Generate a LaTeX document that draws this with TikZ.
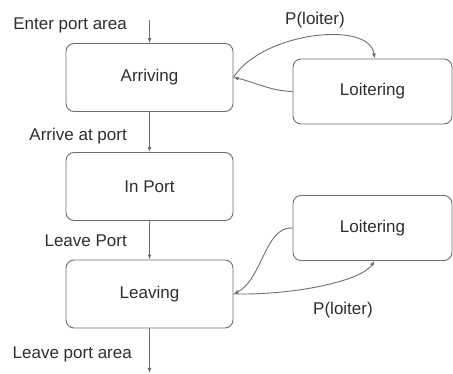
\documentclass[tikz,border=0pt]{standalone}
\usepackage{fontspec}
\setmainfont{Liberation Sans}
\usetikzlibrary{arrows.meta}
\definecolor{edgegray}{HTML}{6E6E6E}
\definecolor{textgray}{HTML}{2E2E2E}
\begin{document}
\begin{tikzpicture}[x=1pt,y=-1pt,
  font=\fontsize{17}{20}\selectfont,
  every node/.style={text=textgray},
  state/.style={draw=edgegray, line width=0.9pt, rounded corners=8pt,
    minimum width=167pt, minimum height=68pt, inner sep=0pt},
  loiterbox/.style={state, minimum width=159pt, minimum height=65pt},
  flow/.style={draw=edgegray, line width=0.9pt,
    -{Latex[length=5pt,width=4pt]}},
  lbl/.style={inner sep=0pt, anchor=base east}]
\useasboundingbox (0,0) rectangle (453,374);

% main chain of states
\node[state] (arr) at (149.5,77.5) {Arriving};
\node[state] (inp) at (149.5,186.5) {In Port};
\node[state] (lev) at (149.5,294) {Leaving};

% loitering states beside the chain
\node[loiterbox] (lo1) at (372.5,91.5) {Loitering};
\node[loiterbox] (lo2) at (372.5,228) {Loitering};

% entry and exit points
\coordinate (entry) at (149.5,20);
\coordinate (exit) at (149.5,373);

% transition labels
\node[lbl] (tenter) at (127,30) {Enter port area};
\node[lbl] (tarrive) at (127,141) {Arrive at port};
\node[lbl] (tleave) at (127,247) {Leave Port};
\node[lbl] (texit) at (132,359) {Leave port area};
\node[inner sep=0pt, anchor=base] (pl1) at (315,25) {P(loiter)};
\node[inner sep=0pt, anchor=base] (pl2) at (343,315) {P(loiter)};

% vertical flow
\draw[flow] (entry) -- (arr.north);
\draw[flow] (arr.south) -- (inp.north);
\draw[flow] (inp.south) -- (lev.north);
\draw[flow] (lev.south) -- (exit);

% loitering on arrival
\draw[flow] (arr.east) .. controls (262,32) and (370,20) .. ([xshift=2pt]lo1.north);
\draw[flow] (lo1.west) .. controls (270,91) and (255,82) .. (arr.east);

% loitering on departure
\draw[flow] (lo2.west) .. controls (265,226) and (262,280) .. (lev.east);
\draw[flow] (lev.east) .. controls (300,295) and (362,280) .. ([xshift=2pt]lo2.south);
\end{tikzpicture}
\end{document}
